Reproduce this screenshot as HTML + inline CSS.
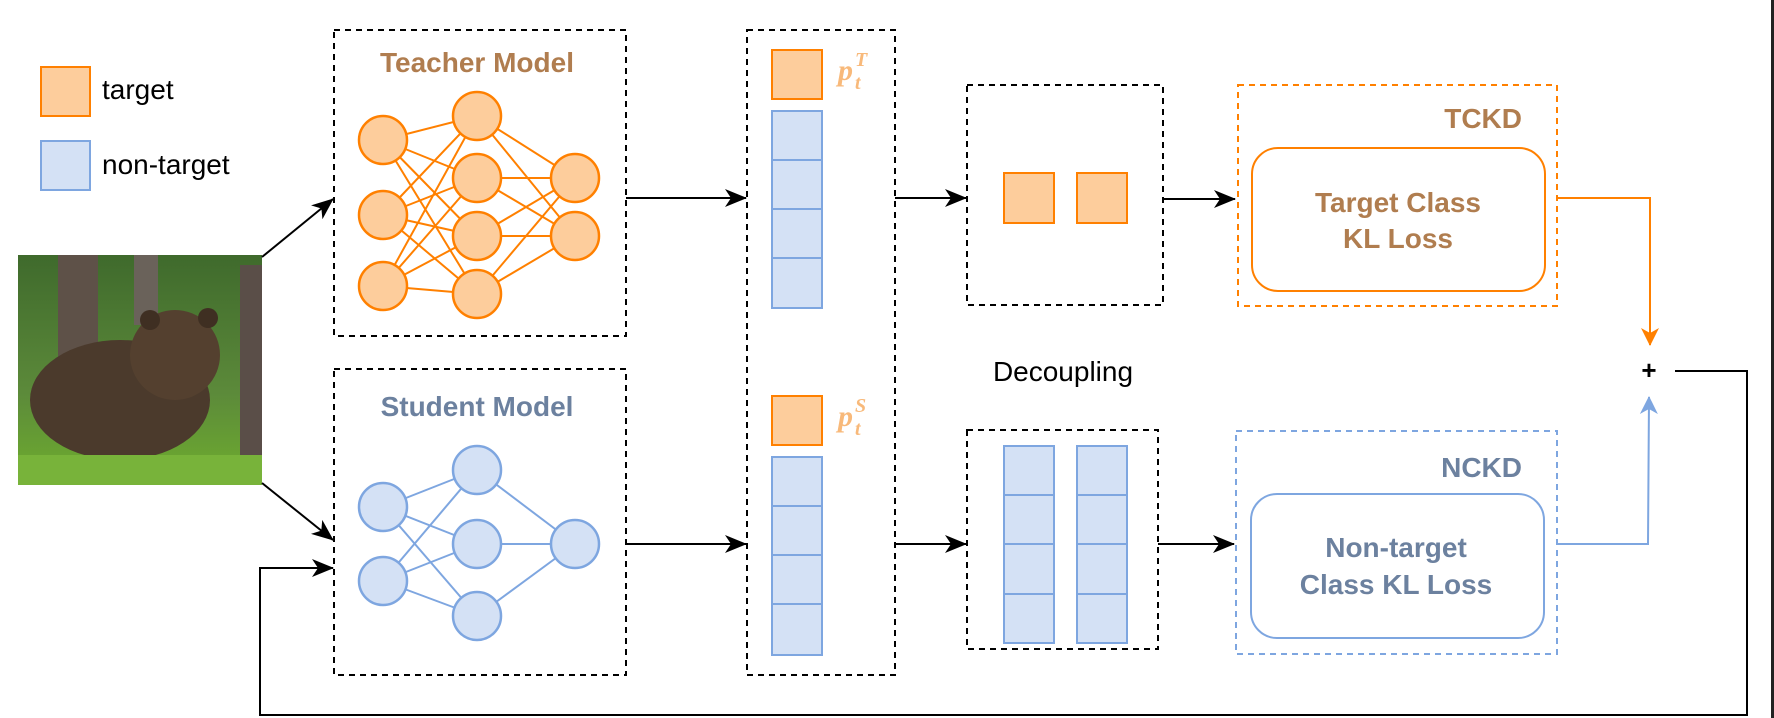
<!DOCTYPE html>
<html><head><meta charset="utf-8"><style>
html,body{margin:0;padding:0;background:#fff;}
svg{display:block;}
.s{font-family:"Liberation Sans",Arial,sans-serif;}
.m{font-family:"Liberation Serif","DejaVu Serif",serif;font-style:italic;font-weight:bold;fill:#f8b97a;}
</style></head><body>
<svg width="1774" height="718" viewBox="0 0 1774 718" xmlns="http://www.w3.org/2000/svg">
<defs>
<marker id="ab" markerWidth="22" markerHeight="20" refX="21" refY="10" orient="auto" markerUnits="userSpaceOnUse"><path d="M0,1 L22,10 L0,19 L6,10 Z" fill="#000"/></marker>
<marker id="ao" markerWidth="18" markerHeight="20" refX="17" refY="10" orient="auto" markerUnits="userSpaceOnUse"><path d="M0,1 L18,10 L0,19 L5,10 Z" fill="#ff8000"/></marker>
<marker id="abl" markerWidth="18" markerHeight="20" refX="17" refY="10" orient="auto" markerUnits="userSpaceOnUse"><path d="M0,1 L18,10 L0,19 L5,10 Z" fill="#7ea6e0"/></marker>
<linearGradient id="bg" x1="0" y1="0" x2="0" y2="1"><stop offset="0" stop-color="#3f6a2c"/><stop offset="0.6" stop-color="#5c8a3a"/><stop offset="1" stop-color="#6fae2e"/></linearGradient>
</defs>
<rect x="1771" y="0" width="3" height="718" fill="#222"/>
<g class="s">
<!-- legend -->
<rect x="41" y="67" width="49" height="49" fill="#fdcd9c" stroke="#ff8000" stroke-width="2"/>
<text x="102" y="99" font-size="28" fill="#000">target</text>
<rect x="41" y="141" width="49" height="49" fill="#d4e1f5" stroke="#7ea6e0" stroke-width="2"/>
<text x="102" y="174" font-size="28" fill="#000">non-target</text>

<!-- bear -->
<rect x="18" y="255" width="244" height="230" fill="url(#bg)"/>
<rect x="58" y="255" width="40" height="110" fill="#5e5148"/>
<rect x="134" y="255" width="24" height="70" fill="#6a625a"/>
<rect x="240" y="265" width="22" height="220" fill="#5a4e48"/>
<ellipse cx="120" cy="400" rx="90" ry="60" fill="#4b3a2c"/>
<ellipse cx="175" cy="355" rx="45" ry="45" fill="#54402f"/>
<circle cx="150" cy="320" r="10" fill="#3f2f22"/><circle cx="208" cy="318" r="10" fill="#3f2f22"/>
<rect x="18" y="455" width="244" height="30" fill="#78b33a"/>

<line x1="262" y1="257" x2="333" y2="199" stroke="#000" stroke-width="2" marker-end="url(#ab)"/>
<line x1="262" y1="483" x2="333" y2="540" stroke="#000" stroke-width="2" marker-end="url(#ab)"/>
<polyline points="1675,371 1747,371 1747,715 260,715 260,568 333,568" fill="none" stroke="#000" stroke-width="2" marker-end="url(#ab)"/>

<!-- teacher box -->
<rect x="334" y="30" width="292" height="306" fill="none" stroke="#000" stroke-width="2" stroke-dasharray="6,5"/>
<text x="477" y="72" font-size="28" font-weight="bold" fill="#b07d4f" text-anchor="middle">Teacher Model</text>
<g stroke="#ff8000" stroke-width="2">
<line x1="383" y1="140" x2="477" y2="116"/><line x1="383" y1="140" x2="477" y2="178"/><line x1="383" y1="140" x2="477" y2="236"/><line x1="383" y1="140" x2="477" y2="294"/>
<line x1="383" y1="215" x2="477" y2="116"/><line x1="383" y1="215" x2="477" y2="178"/><line x1="383" y1="215" x2="477" y2="236"/><line x1="383" y1="215" x2="477" y2="294"/>
<line x1="383" y1="286" x2="477" y2="116"/><line x1="383" y1="286" x2="477" y2="178"/><line x1="383" y1="286" x2="477" y2="236"/><line x1="383" y1="286" x2="477" y2="294"/>
<line x1="477" y1="116" x2="575" y2="178"/><line x1="477" y1="116" x2="575" y2="236"/>
<line x1="477" y1="178" x2="575" y2="178"/><line x1="477" y1="178" x2="575" y2="236"/>
<line x1="477" y1="236" x2="575" y2="178"/><line x1="477" y1="236" x2="575" y2="236"/>
<line x1="477" y1="294" x2="575" y2="178"/><line x1="477" y1="294" x2="575" y2="236"/>
</g>
<g fill="#fdcd9c" stroke="#ff8000" stroke-width="2.5">
<circle cx="383" cy="140" r="24"/><circle cx="383" cy="215" r="24"/><circle cx="383" cy="286" r="24"/>
<circle cx="477" cy="116" r="24"/><circle cx="477" cy="178" r="24"/><circle cx="477" cy="236" r="24"/><circle cx="477" cy="294" r="24"/>
<circle cx="575" cy="178" r="24"/><circle cx="575" cy="236" r="24"/>
</g>

<!-- student box -->
<rect x="334" y="369" width="292" height="306" fill="none" stroke="#000" stroke-width="2" stroke-dasharray="6,5"/>
<text x="477" y="416" font-size="28" font-weight="bold" fill="#6c819f" text-anchor="middle">Student Model</text>
<g stroke="#7ea6e0" stroke-width="2">
<line x1="383" y1="507" x2="477" y2="470"/><line x1="383" y1="507" x2="477" y2="544"/><line x1="383" y1="507" x2="477" y2="616"/>
<line x1="383" y1="581" x2="477" y2="470"/><line x1="383" y1="581" x2="477" y2="544"/><line x1="383" y1="581" x2="477" y2="616"/>
<line x1="477" y1="470" x2="575" y2="544"/><line x1="477" y1="544" x2="575" y2="544"/><line x1="477" y1="616" x2="575" y2="544"/>
</g>
<g fill="#d4e1f5" stroke="#7ea6e0" stroke-width="2.5">
<circle cx="383" cy="507" r="24"/><circle cx="383" cy="581" r="24"/>
<circle cx="477" cy="470" r="24"/><circle cx="477" cy="544" r="24"/><circle cx="477" cy="616" r="24"/>
<circle cx="575" cy="544" r="24"/>
</g>

<line x1="626" y1="198" x2="746" y2="198" stroke="#000" stroke-width="2" marker-end="url(#ab)"/>
<line x1="626" y1="544" x2="746" y2="544" stroke="#000" stroke-width="2" marker-end="url(#ab)"/>

<!-- prob box -->
<rect x="747" y="30" width="148" height="645" fill="none" stroke="#000" stroke-width="2" stroke-dasharray="6,5"/>
<rect x="772" y="50" width="50" height="49" fill="#fdcd9c" stroke="#ff8000" stroke-width="2"/>
<g fill="#d4e1f5" stroke="#7ea6e0" stroke-width="2">
<rect x="772" y="111" width="50" height="49"/><rect x="772" y="160" width="50" height="49"/><rect x="772" y="209" width="50" height="49"/><rect x="772" y="258" width="50" height="50"/>
</g>
<text x="838" y="80" class="m" font-size="30">p</text>
<text x="855" y="89" class="m" font-size="20">t</text>
<text x="855" y="66" class="m" font-size="20">T</text>
<rect x="772" y="396" width="50" height="49" fill="#fdcd9c" stroke="#ff8000" stroke-width="2"/>
<g fill="#d4e1f5" stroke="#7ea6e0" stroke-width="2">
<rect x="772" y="457" width="50" height="49"/><rect x="772" y="506" width="50" height="49"/><rect x="772" y="555" width="50" height="49"/><rect x="772" y="604" width="50" height="51"/>
</g>
<text x="838" y="426" class="m" font-size="30">p</text>
<text x="855" y="435" class="m" font-size="20">t</text>
<text x="855" y="412" class="m" font-size="20">S</text>

<line x1="895" y1="198" x2="966" y2="198" stroke="#000" stroke-width="2" marker-end="url(#ab)"/>
<line x1="895" y1="544" x2="966" y2="544" stroke="#000" stroke-width="2" marker-end="url(#ab)"/>

<!-- decoupling boxes -->
<rect x="967" y="85" width="196" height="220" fill="none" stroke="#000" stroke-width="2" stroke-dasharray="6,5"/>
<rect x="1004" y="173" width="50" height="50" fill="#fdcd9c" stroke="#ff8000" stroke-width="2"/>
<rect x="1077" y="173" width="50" height="50" fill="#fdcd9c" stroke="#ff8000" stroke-width="2"/>
<text x="1063" y="381" font-size="28" fill="#000" text-anchor="middle">Decoupling</text>
<rect x="967" y="430" width="191" height="219" fill="none" stroke="#000" stroke-width="2" stroke-dasharray="6,5"/>
<g fill="#d4e1f5" stroke="#7ea6e0" stroke-width="2">
<rect x="1004" y="446" width="50" height="49"/><rect x="1004" y="495" width="50" height="49"/><rect x="1004" y="544" width="50" height="50"/><rect x="1004" y="594" width="50" height="49"/>
<rect x="1077" y="446" width="50" height="49"/><rect x="1077" y="495" width="50" height="49"/><rect x="1077" y="544" width="50" height="50"/><rect x="1077" y="594" width="50" height="49"/>
</g>

<line x1="1163" y1="199" x2="1235" y2="199" stroke="#000" stroke-width="2" marker-end="url(#ab)"/>
<line x1="1158" y1="544" x2="1234" y2="544" stroke="#000" stroke-width="2" marker-end="url(#ab)"/>

<!-- TCKD -->
<rect x="1238" y="85" width="319" height="221" fill="none" stroke="#ff8000" stroke-width="2" stroke-dasharray="6,5"/>
<text x="1522" y="128" font-size="28" font-weight="bold" fill="#b07d4f" text-anchor="end">TCKD</text>
<rect x="1252" y="148" width="293" height="143" rx="26" fill="none" stroke="#ff8000" stroke-width="2"/>
<text x="1398" y="212" font-size="28" font-weight="bold" fill="#b07d4f" text-anchor="middle">Target Class</text>
<text x="1398" y="248" font-size="28" font-weight="bold" fill="#b07d4f" text-anchor="middle">KL Loss</text>
<polyline points="1557,198 1650,198 1650,345" fill="none" stroke="#ff8000" stroke-width="2" marker-end="url(#ao)"/>

<!-- NCKD -->
<rect x="1236" y="431" width="321" height="223" fill="none" stroke="#7ea6e0" stroke-width="2" stroke-dasharray="6,5"/>
<text x="1522" y="477" font-size="28" font-weight="bold" fill="#6c819f" text-anchor="end">NCKD</text>
<rect x="1251" y="494" width="293" height="144" rx="26" fill="none" stroke="#7ea6e0" stroke-width="2"/>
<text x="1396" y="557" font-size="28" font-weight="bold" fill="#6c819f" text-anchor="middle">Non-target</text>
<text x="1396" y="594" font-size="28" font-weight="bold" fill="#6c819f" text-anchor="middle">Class KL Loss</text>
<polyline points="1557,544 1648,544 1649,397" fill="none" stroke="#7ea6e0" stroke-width="2" marker-end="url(#abl)"/>

<text x="1649" y="379" font-size="26" font-weight="bold" fill="#000" text-anchor="middle">+</text>
</g>
</svg>
</body></html>
